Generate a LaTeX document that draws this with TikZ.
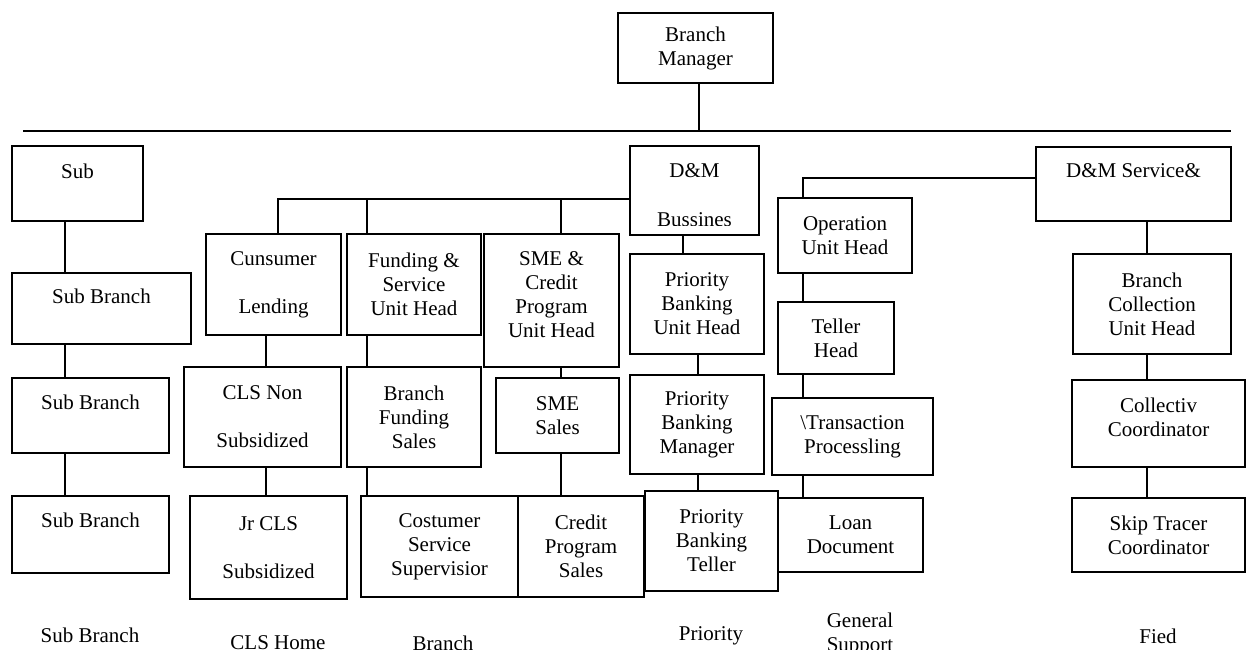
\documentclass[tikz,border=0pt]{standalone}
\usepackage{fontspec}
\setmainfont{Liberation Serif}
\begin{document}
\begin{tikzpicture}[x=1pt,y=-1pt,
  box/.style={draw, line width=1.2pt, inner sep=0pt, align=center, font=\fontsize{21}{24}\selectfont},
  txt/.style={inner sep=0pt, align=center, font=\fontsize{21}{24}\selectfont},
  conn/.style={line width=1.2pt}]
\clip (0,0) rectangle (1251,650);
% boxes
\node[box, minimum width=155pt, minimum height=70pt] (bm) at (695.5,48) {Branch\\Manager};
\node[box, minimum width=131pt, minimum height=75pt] (sub) at (77.5,183.5) {};
\node[box, minimum width=179pt, minimum height=71pt] (sb1) at (101.5,308.5) {};
\node[box, minimum width=157pt, minimum height=75pt] (sb2) at (90.5,415.5) {};
\node[box, minimum width=157pt, minimum height=77pt] (sb3) at (90.5,534.5) {};
\node[box, minimum width=135pt, minimum height=101pt] (cl) at (273.5,284.5) {Cunsumer\\[24pt]Lending};
\node[box, minimum width=134pt, minimum height=101pt] (fs) at (414,284.5) {Funding \&\\Service\\Unit Head};
\node[box, minimum width=135pt, minimum height=133pt] (sme) at (551.5,300.5) {};
\node[box, minimum width=129pt, minimum height=89pt] (dm) at (694.5,190.5) {};
\node[box, minimum width=134pt, minimum height=100pt] (pbu) at (697,304) {Priority\\Banking\\Unit Head};
\node[box, minimum width=134pt, minimum height=99pt] (pbm) at (697,424.5) {Priority\\Banking\\Manager};
\node[box, minimum width=195pt, minimum height=74pt] (dms) at (1133.5,184) {};
\node[box, minimum width=134pt, minimum height=75pt] (ouh) at (845,235.5) {Operation\\Unit Head};
\node[box, minimum width=116pt, minimum height=72pt] (th) at (836,338) {Teller\\Head};
\node[box, minimum width=161pt, minimum height=77pt] (tp) at (852.5,436.5) {\textbackslash Transaction\\Processling};
\node[box, minimum width=145pt, minimum height=74pt] (ld) at (850.5,535) {Loan\\Document};
\node[box, minimum width=158pt, minimum height=100pt] (bcu) at (1152,304) {Branch\\Collection\\Unit Head};
\node[box, minimum width=173pt, minimum height=87pt] (cc) at (1158.5,423.5) {};
\node[box, minimum width=173pt, minimum height=74pt] (st) at (1158.5,535) {Skip Tracer\\Coordinator};
\node[box, minimum width=157pt, minimum height=100pt] (cls) at (262.5,417) {CLS Non\\[24pt]Subsidized};
\node[box, minimum width=157pt, minimum height=103pt] (jr) at (268.5,547.5) {Jr CLS\\[24pt]Subsidized};
\node[box, minimum width=134pt, minimum height=100pt] (bfs) at (414,417) {Branch\\Funding\\Sales};
\node[box, minimum width=157pt, minimum height=101pt] (css) at (439.5,546.5) {Costumer\\Service\\Supervisior};
\node[box, minimum width=123pt, minimum height=75pt] (smes) at (557.5,415.5) {SME\\Sales};
\node[box, minimum width=126pt, minimum height=101pt] (cps) at (581,546.5) {Credit\\Program\\Sales};
\node[box, minimum width=133pt, minimum height=100pt] (pbt) at (711.5,541) {Priority\\Banking\\Teller};
% texts placed off-centre inside boxes
\node[txt] (subt) at (77.5,171) {Sub};
\node[txt] (sb1t) at (101.5,296) {Sub Branch};
\node[txt] (sb2t) at (90.5,402) {Sub Branch};
\node[txt] (sb3t) at (90.5,520) {Sub Branch};
\node[txt] (dmst) at (1133.5,171) {D\&M Service\&};
\node[txt] (smet) at (551.5,295) {SME \&\\Credit\\Program\\Unit Head};
\node[txt] (cct) at (1158.5,417.5) {Collectiv\\Coordinator};
\node[txt] (dmt) at (694.5,171) {D\&M};
\begin{scope}
\clip (630,146) rectangle (759,225);
\node[txt] (dmt2) at (694.5,220) {Bussines};
\end{scope}
% bottom labels
\node[txt] (l1) at (90,635) {Sub Branch};
\node[txt] (l2) at (278,643) {CLS Home};
\node[txt] (l3) at (443,643) {Branch};
\node[txt] (l4) at (711,636) {Priority};
\node[txt] (l5) at (860,634) {General\\Support};
\node[txt] (l6) at (1158,636) {Fied};
% coordinates
\coordinate (tl) at (23,131);
\coordinate (tr) at (1231,131);
\coordinate (xbm) at (699,131);
\coordinate (c65) at (65,0);
\coordinate (bus) at (278,199);
\coordinate (c367) at (367,199);
\coordinate (c561) at (561,199);
\coordinate (c683) at (683,0);
\coordinate (c698) at (698,0);
\coordinate (c266) at (266,0);
\coordinate (c803) at (803,178);
\coordinate (c1147) at (1147,0);
% connectors
\draw[conn] (tl) -- (tr);
\draw[conn] (bm.south -| xbm) -- (xbm);
\draw[conn] (sub.south -| c65) -- (sb1.north -| c65);
\draw[conn] (sb1.south -| c65) -- (sb2.north -| c65);
\draw[conn] (sb2.south -| c65) -- (sb3.north -| c65);
\draw[conn] (dm.west |- bus) -- (bus) -- (cl.north -| bus);
\draw[conn] (c367) -- (fs.north -| c367);
\draw[conn] (c561) -- (sme.north -| c561);
\draw[conn] (dm.south -| c683) -- (pbu.north -| c683);
\draw[conn] (pbu.south -| c698) -- (pbm.north -| c698);
\draw[conn] (pbm.south -| c698) -- (pbt.north -| c698);
\draw[conn] (cl.south -| c266) -- (cls.north -| c266);
\draw[conn] (cls.south -| c266) -- (jr.north -| c266);
\draw[conn] (fs.south -| c367) -- (bfs.north -| c367);
\draw[conn] (bfs.south -| c367) -- (css.north -| c367);
\draw[conn] (sme.south -| c561) -- (smes.north -| c561);
\draw[conn] (smes.south -| c561) -- (cps.north -| c561);
\draw[conn] (dms.west |- c803) -- (c803) -- (ouh.north -| c803);
\draw[conn] (ouh.south -| c803) -- (th.north -| c803);
\draw[conn] (th.south -| c803) -- (tp.north -| c803);
\draw[conn] (tp.south -| c803) -- (ld.north -| c803);
\draw[conn] (dms.south -| c1147) -- (bcu.north -| c1147);
\draw[conn] (bcu.south -| c1147) -- (cc.north -| c1147);
\draw[conn] (cc.south -| c1147) -- (st.north -| c1147);
\end{tikzpicture}
\end{document}
